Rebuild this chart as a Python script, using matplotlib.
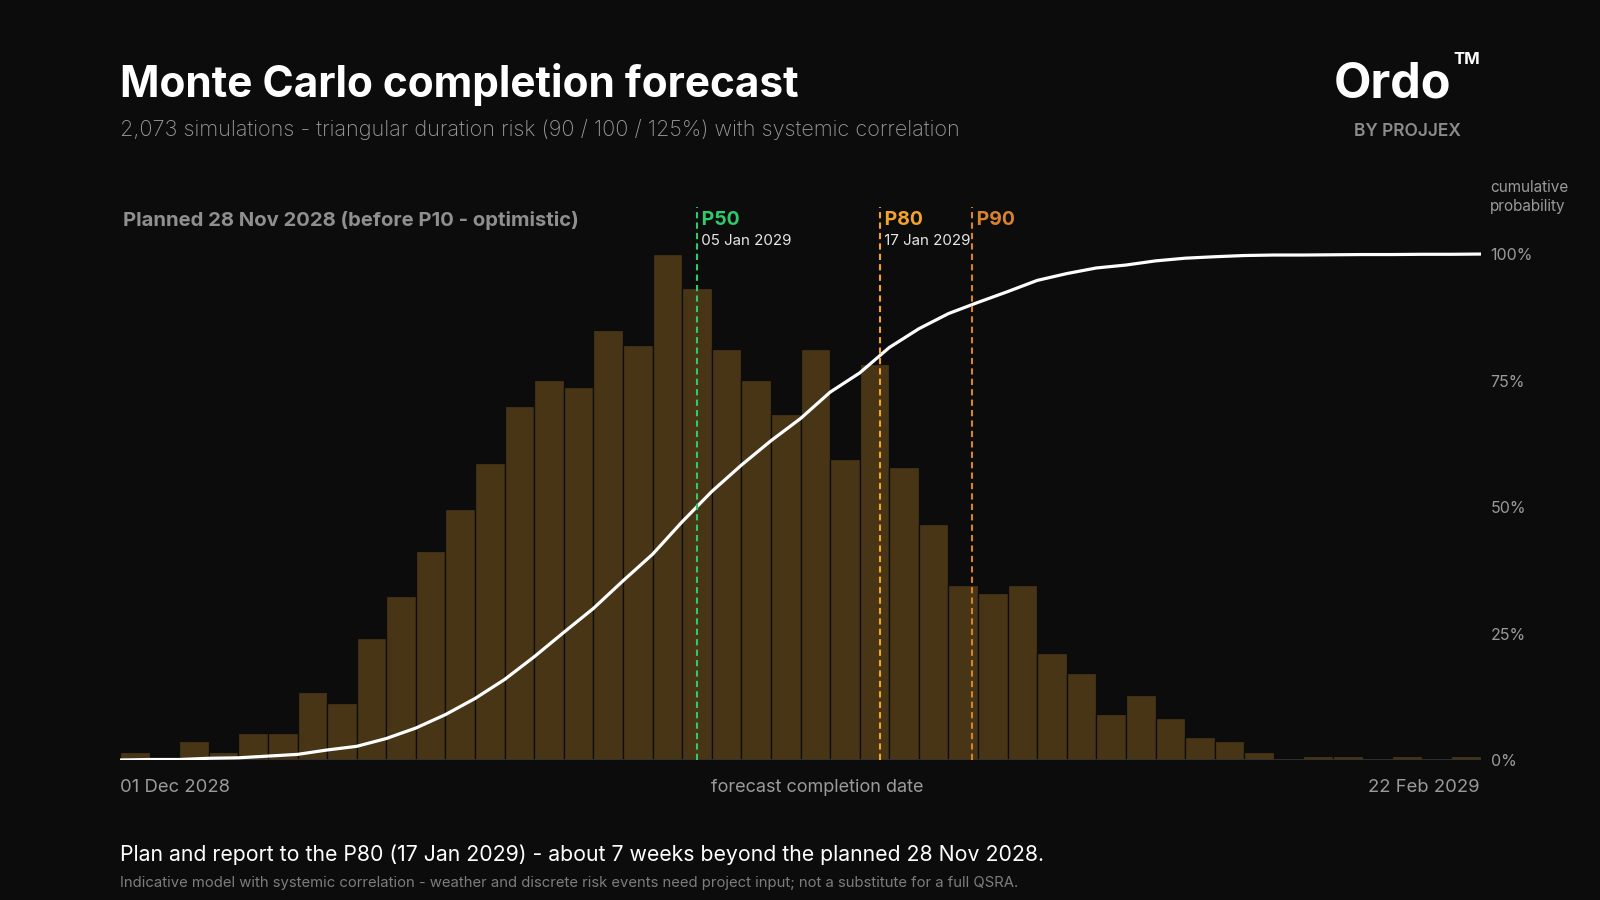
import numpy as np
import matplotlib
matplotlib.use("Agg")
import matplotlib.pyplot as plt
from matplotlib.ticker import PercentFormatter

# histogram of 2,073 simulated finish dates, 46 bins between 01 Dec 2028 and 22 Feb 2029
span_days = 83
counts = [2, 0, 5, 2, 7, 7, 18, 15, 32, 43, 55, 66, 78, 93, 100, 98, 113, 109,
          133, 124, 108, 100, 91, 108, 79, 104, 77, 62, 46, 44, 46, 28, 23, 12,
          17, 11, 6, 5, 2, 0, 1, 1, 0, 1, 0, 1]

p_names = ["P50", "P80", "P90"]
p_levels = [0.50, 0.80, 0.90]
p_dates = ["05 Jan 2029", "17 Jan 2029", ""]
p_colors = ["#2fca6c", "#f3a428", "#d8822c"]

start_label = "01 Dec 2028"
end_label = "22 Feb 2029"

BG = "#0c0c0c"
GREY = "#9a9a9a"
FONT = ["Inter", "DejaVu Sans"]
plt.rcParams["font.family"] = FONT

W, H = 1600, 900
fig = plt.figure(figsize=(16, 9), dpi=100, facecolor=BG)


def px(x, y):
    return x / W, 1 - y / H


ax = fig.add_axes([120 / W, 1 - 760 / H, (1481 - 120) / W, (760 - 207) / H])
ax.set_facecolor(BG)

counts = np.array(counts, dtype=float)
edges = np.linspace(0, span_days, len(counts) + 1)
widths = np.diff(edges)

# bars scaled so that the tallest bin reaches 100%
ax.bar(edges[:-1], counts / counts.max(), width=widths, align="edge",
       color="#473516", edgecolor=BG, linewidth=0.9, zorder=2)

# cumulative probability
cum = np.concatenate([[0], np.cumsum(counts)]) / counts.sum()
ax.plot(edges, cum, color="white", lw=2.3, zorder=4, solid_capstyle="butt")

ax.axhline(0, color="#333333", lw=2, zorder=3)

for name, lvl, dt, col in zip(p_names, p_levels, p_dates, p_colors):
    xv = np.interp(lvl, cum, edges)
    ax.axvline(xv, color=col, lw=1.5, dashes=(3, 2), zorder=5)
    ax.text(xv, 1.068, " " + name, color=col, fontsize=14, fontweight="bold",
            ha="left", va="center", zorder=6)
    if dt:
        ax.text(xv, 1.025, " " + dt, color="#e6e6e6", fontsize=10.9,
                ha="left", va="center", zorder=6)

ax.set_xlim(0, span_days)
ax.set_ylim(0, 1.093)
ax.set_xticks([])
ax.yaxis.tick_right()
ax.set_yticks([0, 0.25, 0.5, 0.75, 1.0])
ax.yaxis.set_major_formatter(PercentFormatter(1.0, decimals=0))
ax.tick_params(axis="y", length=0, pad=7, labelsize=11.5, labelcolor=GREY)
for s in ax.spines.values():
    s.set_visible(False)

# titles and branding
fig.text(*px(120, 85), "Monte Carlo completion forecast", color="white",
         fontsize=30.5, fontweight="bold", ha="left", va="center")
fig.text(*px(120, 129), "2,073 simulations - triangular duration risk (90 / 100 / 125%) with systemic correlation",
         color=GREY, fontsize=15.6, fontweight="light", ha="left", va="center")
fig.text(*px(1451, 84), "Ordo", color="white", fontsize=35, fontweight="bold",
         ha="right", va="center")
fig.text(*px(1480, 59), "TM", color="white", fontsize=12, fontweight="bold",
         ha="right", va="center")
fig.text(*px(1461, 131), "BY PROJJEX", color="#8c8c8c", fontsize=12.5,
         fontweight="semibold", ha="right", va="center")

fig.text(*px(123, 221), "Planned 28 Nov 2028 (before P10 - optimistic)",
         color="#8f8f8f", fontsize=14.6, fontweight="bold", ha="left", va="center")

fig.text(*px(1490, 187), "cumulative", color=GREY, fontsize=11, ha="left", va="center")
fig.text(*px(1490, 207), "probability", color=GREY, fontsize=11, ha="left", va="center")

fig.text(*px(120, 787), start_label, color=GREY, fontsize=13.3, ha="left", va="center")
fig.text(*px(817, 787), "forecast completion date", color=GREY, fontsize=13,
         ha="center", va="center")
fig.text(*px(1480, 787), end_label, color=GREY, fontsize=13.3, ha="right", va="center")

fig.text(*px(120, 855), "Plan and report to the P80 (17 Jan 2029) - about 7 weeks beyond the planned 28 Nov 2028.",
         color="white", fontsize=15.3, ha="left", va="center")
fig.text(*px(120, 883), "Indicative model with systemic correlation - weather and discrete risk events need project input; not a substitute for a full QSRA.",
         color="#7d7d7d", fontsize=10.7, ha="left", va="center")

fig.savefig("out.png", dpi=100, facecolor=BG)
